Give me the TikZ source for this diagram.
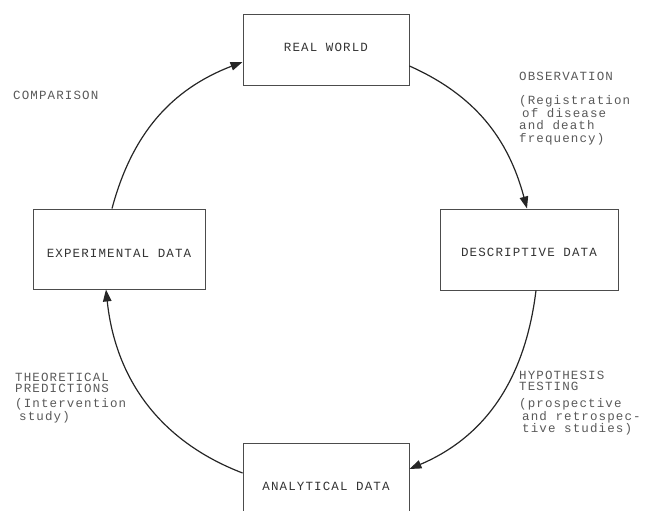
\documentclass[tikz,border=0pt]{standalone}
\usepackage{fontspec}
\newfontfamily\tw[LetterSpace=9]{Liberation Mono}
\usetikzlibrary{arrows.meta}
\begin{document}
\begin{tikzpicture}[x=1pt,y=1pt,
  databox/.style={draw=black!70, line width=0.9pt, inner sep=0pt,
    text=black!80, font=\tw\fontsize{12.5}{12}\selectfont},
  flow/.style={line width=1.2pt, draw=black!85,
    -{Triangle[length=12pt,width=8.5pt]}},
  note/.style={text=black!65, inner sep=0pt, align=left, anchor=north west,
    font=\tw\fontsize{12.5}{11.5}\selectfont}]
\useasboundingbox (0,0) rectangle (649,-511);
% boxes
\node[databox, minimum width=166pt, minimum height=71pt, text height=8.5pt, text depth=5pt] (rw)   at (326,-49.5) {REAL WORLD};
\node[databox, minimum width=172pt, minimum height=80pt, text height=16.5pt, text depth=0pt] (exp)  at (119,-249)  {EXPERIMENTAL DATA};
\node[databox, minimum width=178pt, minimum height=81pt, text height=13.5pt, text depth=0pt] (desc) at (529,-249.5) {DESCRIPTIVE DATA};
\node[databox, minimum width=166pt, minimum height=80pt, text height=14.5pt, text depth=0pt] (an)   at (326,-483)  {ANALYTICAL DATA};
% labels
\node[note] (cmp) at (13,-91) {COMPARISON};
\node[note, font=\tw\fontsize{12.5}{12.8}\selectfont] (obs) at (519,-72)
  {OBSERVATION\\[11pt](Registration\\\hspace*{3pt}of disease\\and death\\frequency)};
\node[note, font=\tw\fontsize{12.5}{11}\selectfont] (theo) at (15,-373)
  {THEORETICAL\\PREDICTIONS\\[4pt](Intervention\\\hspace*{4pt}study)};
\node[note, font=\tw\fontsize{12.5}{11}\selectfont] (hyp) at (519,-371)
  {HYPOTHESIS\\TESTING\\[6pt](prospective\\\hspace*{3pt}and retrospec-\\\hspace*{3pt}tive studies)};
% connectors
\draw[flow] ([xshift=-7pt]exp.north) to[out=75,in=201] ([yshift=-12.5pt]rw.west);
\draw[flow] ([yshift=-16.5pt]rw.east) to[out=-24,in=105] ([xshift=-2pt]desc.north);
\draw[flow] ([xshift=7pt]desc.south) to[out=-97,in=23] ([yshift=14pt]an.east);
\draw[flow] ([yshift=10pt]an.west) to[out=159,in=-84] ([xshift=-13pt]exp.south);
\end{tikzpicture}
\end{document}
